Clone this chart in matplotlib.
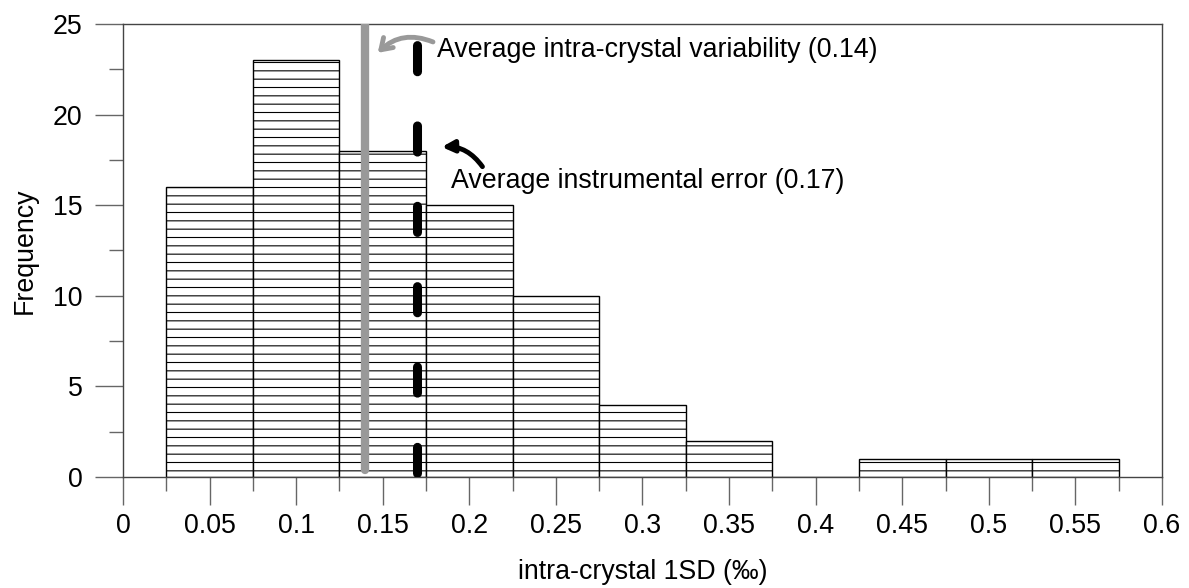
import matplotlib
matplotlib.use("Agg")
import matplotlib.pyplot as plt
import numpy as np

plt.rcParams['font.family'] = ['Liberation Sans', 'DejaVu Sans']
plt.rcParams['hatch.linewidth'] = 0.8

# histogram bins (centres, width 0.05) and counts
bin_centers = [0.05, 0.10, 0.15, 0.20, 0.25, 0.30, 0.35, 0.40, 0.45, 0.50, 0.55]
counts = [16, 23, 18, 15, 10, 4, 2, 0, 1, 1, 1]
bin_width = 0.05

avg_variability = 0.14
avg_instrumental = 0.17

FS = 19.3

fig = plt.figure(figsize=(11.89, 5.88), dpi=100)
ax = fig.add_axes([0.1034, 0.1888, 0.8739, 0.7704])

ax.bar(bin_centers, counts, width=bin_width, color='white', edgecolor='black',
       linewidth=1.0, hatch='--', zorder=2)

# average lines
ax.plot([avg_variability, avg_variability], [0.4, 25], color='#999999',
        linewidth=6, solid_capstyle='round', zorder=3)
ax.plot([avg_instrumental, avg_instrumental], [0.2, 25], color='black',
        linewidth=6.5, linestyle=(0, (2.9, 6.0)), dash_capstyle='round', zorder=4)

# labels with curved arrows
ax.text(0.1815, 23.55, 'Average intra-crystal variability (0.14)', fontsize=FS,
        va='center', ha='left')
ax.annotate('', xy=(0.146, 23.3), xytext=(0.1805, 23.95),
            arrowprops=dict(arrowstyle='->,head_length=0.75,head_width=0.5',
                            color='#999999', lw=3.5, connectionstyle='arc3,rad=0.35'))
ax.text(0.1895, 16.35, 'Average instrumental error (0.17)', fontsize=FS,
        va='center', ha='left')
ax.annotate('', xy=(0.1825, 18.2), xytext=(0.2085, 17.0),
            arrowprops=dict(arrowstyle='-|>,head_length=0.7,head_width=0.35',
                            color='black', lw=3.5, connectionstyle='arc3,rad=0.3'))

ax.set_xlim(0, 0.6)
ax.set_ylim(0, 25)
ax.set_xticks(np.arange(0, 0.601, 0.05))
ax.set_xticklabels(['0', '0.05', '0.1', '0.15', '0.2', '0.25', '0.3', '0.35',
                    '0.4', '0.45', '0.5', '0.55', '0.6'])
ax.set_xticks(np.arange(0.025, 0.6, 0.05), minor=True)
ax.set_yticks(np.arange(0, 26, 5))
ax.set_yticks(np.arange(2.5, 25, 5), minor=True)

ax.tick_params(axis='both', which='major', length=20, width=1, color='#666666',
               labelsize=FS)
ax.tick_params(axis='x', which='major', pad=6)
ax.tick_params(axis='y', which='major', pad=9)
ax.tick_params(axis='both', which='minor', length=10, width=1, color='#666666')
for s in ax.spines.values():
    s.set_color('#444444')
    s.set_linewidth(1)

ax.set_xlabel('intra-crystal 1SD (‰)', fontsize=FS, labelpad=14)
ax.set_ylabel('Frequency', fontsize=FS, labelpad=11)

fig.savefig('out.png', dpi=100)
